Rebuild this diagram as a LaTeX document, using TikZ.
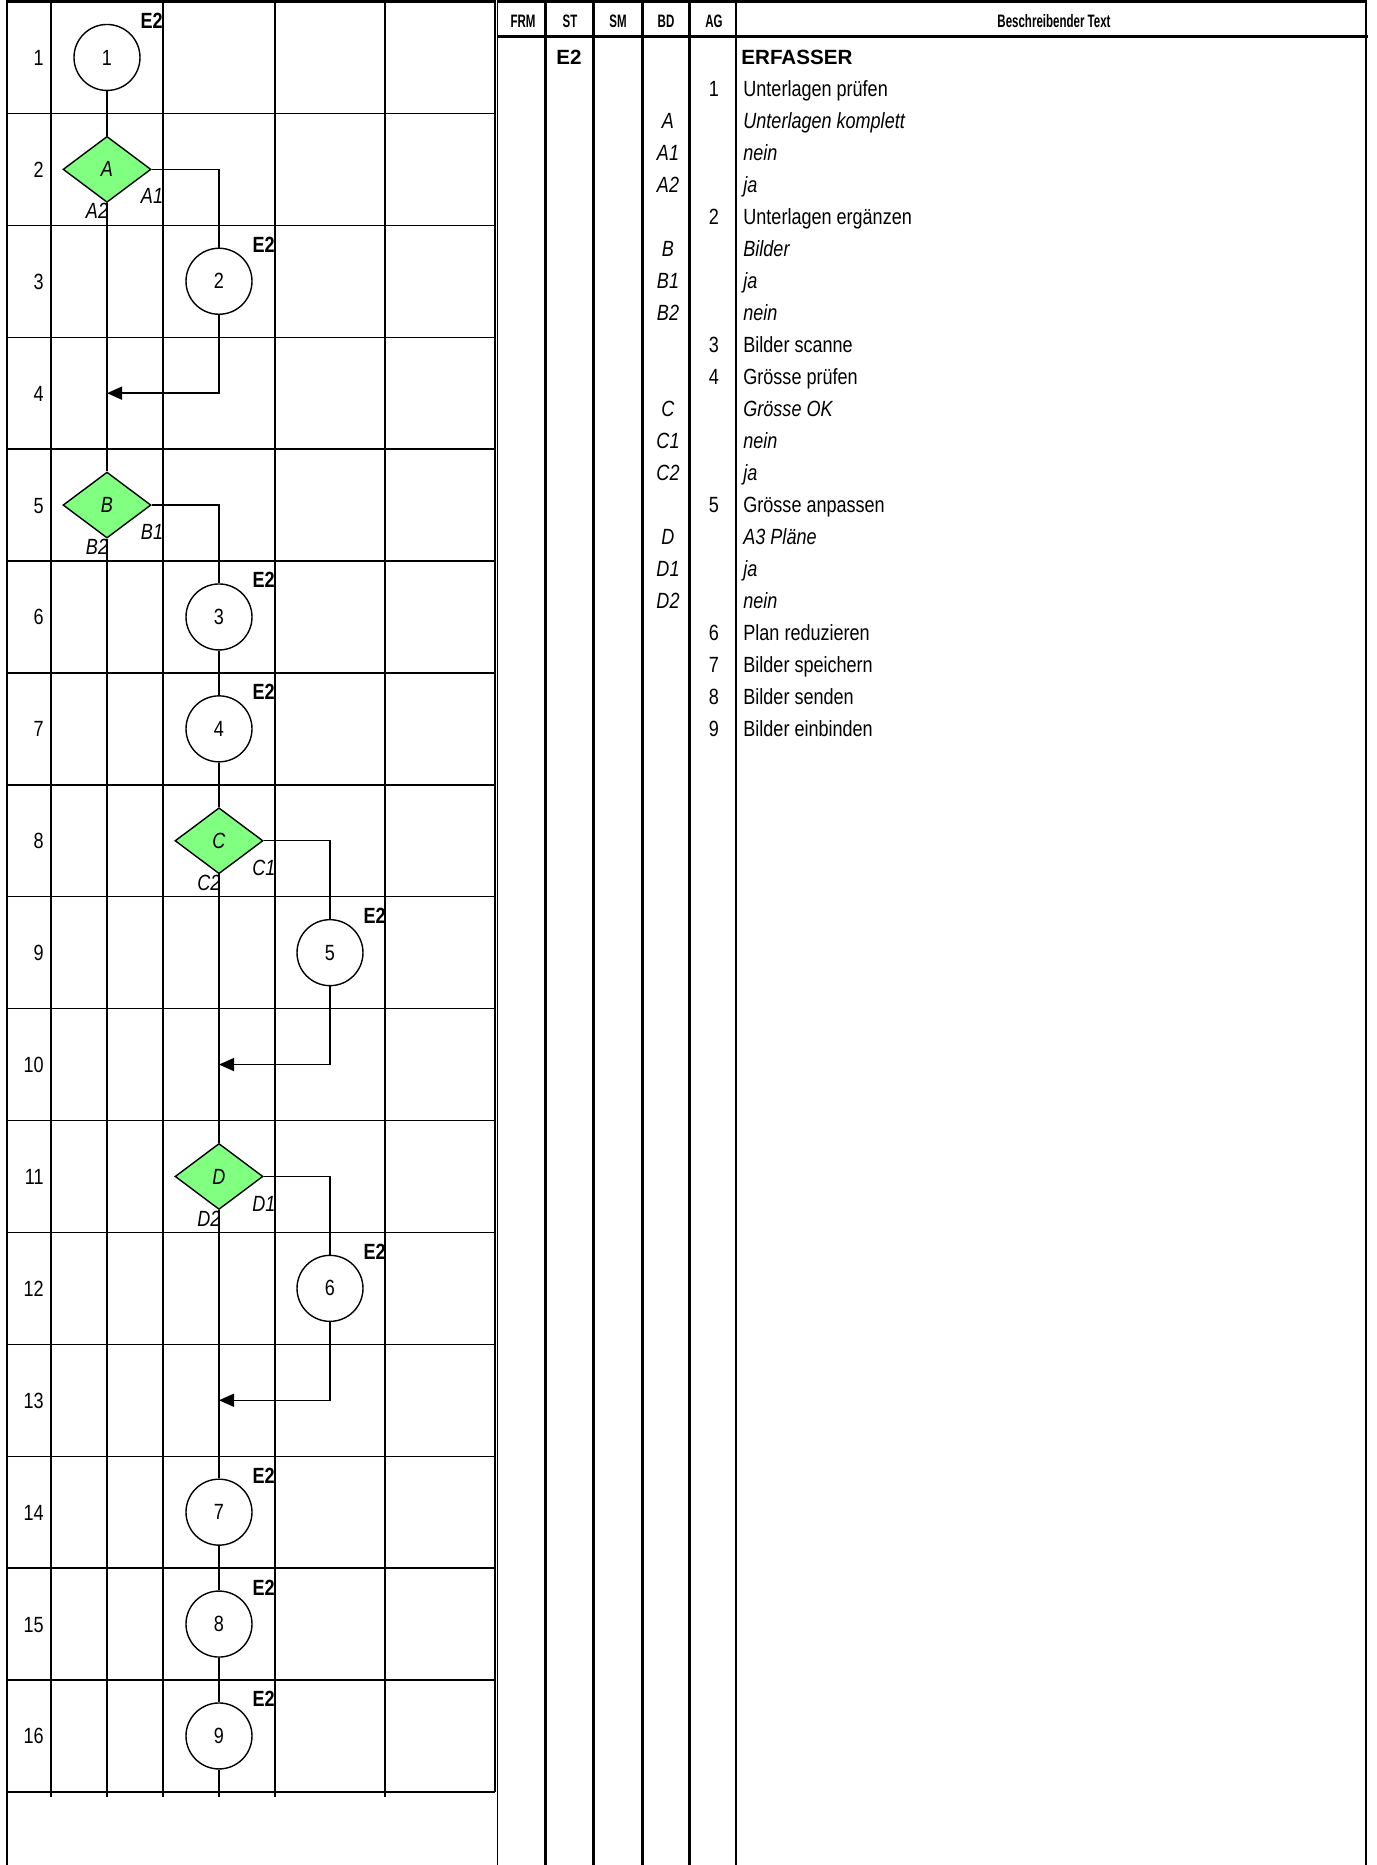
\documentclass[tikz,border=0pt]{standalone}
\usepackage{fontspec}
\setmainfont{Liberation Sans}
\newfontfamily\nar[FakeStretch=0.82]{Liberation Sans}
\newfontfamily\hdr[FakeStretch=0.64]{Liberation Sans}
\usetikzlibrary{shapes.geometric,arrows.meta}
\definecolor{dgreen}{HTML}{80FF80}
\tikzset{
  gridl/.style={line width=0.7pt},
  thk/.style={line width=1.5pt},
  flow/.style={line width=0.7pt},
  arr/.style={-{Triangle[length=7.5pt,width=6.5pt]}},
  circ/.style={circle, draw, line width=0.7pt, minimum size=33pt, inner sep=0pt, fill=white,
    font=\nar\fontsize{11}{13}\selectfont},
  dia/.style={diamond, draw, fill=dgreen, aspect=1.333, minimum width=44pt, minimum height=33pt,
    inner sep=0pt, line width=0.7pt, font=\nar\itshape\fontsize{11}{13}\selectfont},
  lbl/.style={inner sep=0pt, font=\nar\itshape\fontsize{11}{13}\selectfont},
  etwo/.style={anchor=base east, inner sep=0pt, font=\nar\bfseries\fontsize{11}{13}\selectfont},
  rownum/.style={anchor=base east, inner sep=0pt, font=\nar\fontsize{11}{13}\selectfont},
  txt/.style={anchor=base west, inner sep=0pt, font=\nar\fontsize{11}{13}\selectfont},
  itx/.style={anchor=base west, inner sep=0pt, font=\nar\itshape\fontsize{11}{13}\selectfont},
  agn/.style={anchor=base, inner sep=0pt, font=\nar\fontsize{11}{13}\selectfont},
  bdn/.style={anchor=base, inner sep=0pt, font=\nar\itshape\fontsize{11}{13}\selectfont},
  hd/.style={inner sep=0pt, font=\hdr\bfseries\fontsize{9}{11}\selectfont},
  bld/.style={inner sep=0pt, font=\bfseries\fontsize{10.3}{12}\selectfont}
}
\begin{document}
\begin{tikzpicture}[x=0.5pt,y=-0.5pt]
\useasboundingbox (0,0) rectangle (1377,1865);
% ---------- left grid ----------
\foreach \k in {1,...,16} \draw[gridl] (7,{1.5+111.9*\k}) -- (495,{1.5+111.9*\k});
\draw[line width=1.2pt] (7,1.5) -- (495,1.5);
\draw[gridl] (7,0) -- (7,1865);
\foreach \x in {51,163,275,385} \draw[gridl] (\x,0) -- (\x,1797);
\draw[gridl] (495,0) -- (495,1792);
\foreach \k in {1,...,16} \node[rownum] (r\k) at (44,{1.5+111.9*(\k-0.5)+8}) {\k};
% ---------- right table ----------
\draw[gridl] (497.5,0) -- (497.5,1865);
\draw[line width=1.2pt] (497,1.5) -- (1366,1.5);
\draw[thk] (497,36.5) -- (1368,36.5);
\foreach \x in {545,593,642,689} \draw[thk] (\x,0) -- (\x,1865);
\draw[gridl] (736,0) -- (736,1865);
\draw[line width=1pt] (1366,0) -- (1366,1865);
\node[hd] (hFRM) at (523,21) {FRM};
\node[hd] (hST) at (570,21) {ST};
\node[hd] (hSM) at (618,21) {SM};
\node[hd] (hBD) at (666,21) {BD};
\node[hd] (hAG) at (714,21) {AG};
\node[hd] (hTX) at (1054,21) {Beschreibender Text};
\node[bld, anchor=base] (st1) at (569,64) {E2};
\node[bld, anchor=base west] (erf) at (741,64) {ERFASSER};
\foreach \i/\n/\t in {1/1/Unterlagen prüfen, 5/2/Unterlagen ergänzen, 9/3/Bilder scanne,
  10/4/Grösse prüfen, 14/5/Grösse anpassen, 18/6/Plan reduzieren, 19/7/Bilder speichern,
  20/8/Bilder senden, 21/9/Bilder einbinden}{
  \node[agn] (ag\i) at (714,{64+32*\i}) {\n};
  \node[txt] (tx\i) at (743,{64+32*\i}) {\t};
}
\foreach \i/\b/\t in {2/A/Unterlagen komplett, 3/A1/nein, 4/A2/ja, 6/B/Bilder, 7/B1/ja, 8/B2/nein,
  11/C/Grösse OK, 12/C1/nein, 13/C2/ja, 15/D/A3 Pläne, 16/D1/ja, 17/D2/nein}{
  \node[bdn] (bd\i) at (668,{64+32*\i}) {\b};
  \node[itx] (tx\i) at (743,{64+32*\i}) {\t};
}
% ---------- flow chart ----------
\node[circ] (c1) at (107,57.45) {1};
\node[dia] (dA) at (107,169.35) {A};
\node[circ] (c2) at (219,281.25) {2};
\coordinate (j1) at (107,393.15);
\node[dia] (dB) at (107,505.05) {B};
\node[circ] (c3) at (219,616.95) {3};
\node[circ] (c4) at (219,728.85) {4};
\node[dia] (dC) at (219,840.75) {C};
\node[circ] (c5) at (330,952.65) {5};
\coordinate (j2) at (219,1064.55);
\node[dia] (dD) at (219,1176.45) {D};
\node[circ] (c6) at (330,1288.35) {6};
\coordinate (j3) at (219,1400.25);
\node[circ] (c7) at (219,1512.15) {7};
\node[circ] (c8) at (219,1624.05) {8};
\node[circ] (c9) at (219,1735.95) {9};
\coordinate (endA) at (107,1797);
\coordinate (endB) at (219,1797);
\draw[flow] (c1) -- (dA);
\draw[flow] (dA.east) -| (c2.north);
\draw[flow,arr] (c2.south) |- (j1);
\draw[flow] (dA.south) -- (dB.north);
\draw[flow] (dB.east) -| (c3.north);
\draw[flow] (dB.south) -- (endA);
\draw[flow] (c3) -- (c4);
\draw[flow] (c4) -- (dC);
\draw[flow] (dC.east) -| (c5.north);
\draw[flow,arr] (c5.south) |- (j2);
\draw[flow] (dC.south) -- (dD.north);
\draw[flow] (dD.east) -| (c6.north);
\draw[flow,arr] (c6.south) |- (j3);
\draw[flow] (dD.south) -- (c7);
\draw[flow] (c7) -- (c8);
\draw[flow] (c8) -- (c9);
\draw[flow] (c9.south) -- (endB);
% branch labels
\node[lbl] (lA1) at (152,196) {A1};
\node[lbl] (lA2) at (97,211) {A2};
\node[lbl] (lB1) at (152,532) {B1};
\node[lbl] (lB2) at (97,547) {B2};
\node[lbl] (lC1) at (264,868) {C1};
\node[lbl] (lC2) at (209,883) {C2};
\node[lbl] (lD1) at (264,1204) {D1};
\node[lbl] (lD2) at (209,1219) {D2};
% E2 marks
\foreach \n/\cx/\cy in {1/107/57.45, 2/219/281.25, 3/219/616.95, 4/219/728.85, 5/330/952.65,
  6/330/1288.35, 7/219/1512.15, 8/219/1624.05, 9/219/1735.95}
  \node[etwo] (e\n) at ({\cx+56},{\cy-29}) {E2};
\end{tikzpicture}
\end{document}
